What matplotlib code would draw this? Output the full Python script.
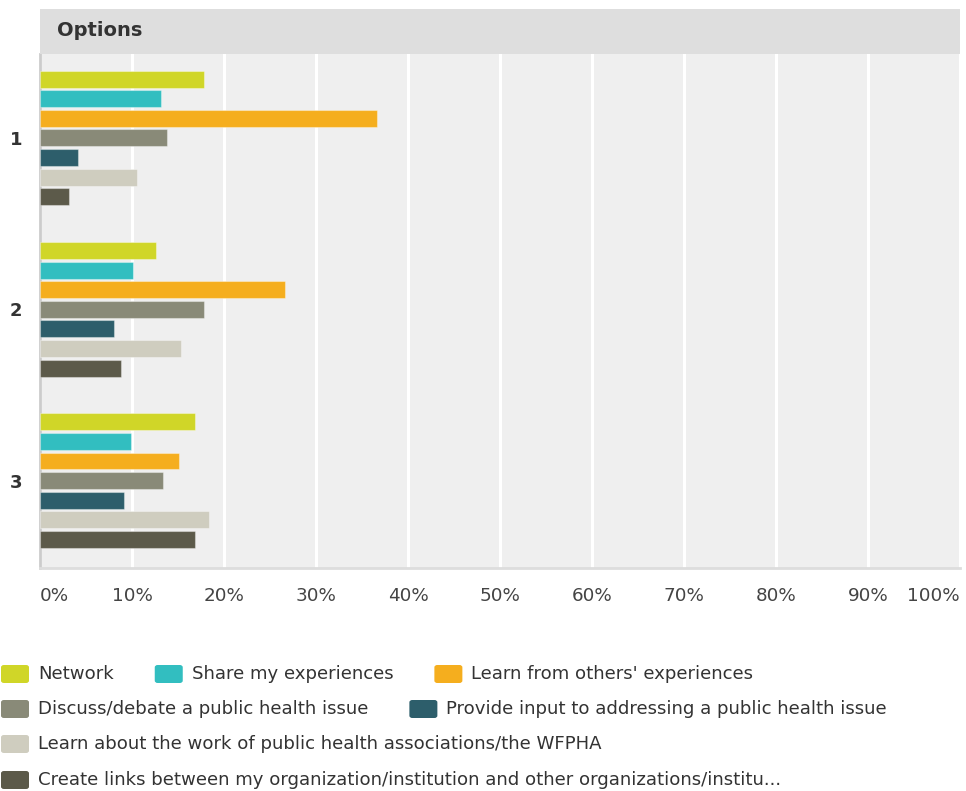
import numpy as np
import matplotlib
matplotlib.use("Agg")
import matplotlib.pyplot as plt
from matplotlib.patches import Rectangle, FancyBboxPatch

# ---- data ----
groups = ["1", "2", "3"]
options = [
    "Network",
    "Share my experiences",
    "Learn from others' experiences",
    "Discuss/debate a public health issue",
    "Provide input to addressing a public health issue",
    "Learn about the work of public health associations/the WFPHA",
    "Create links between my organization/institution and other organizations/institu...",
]
network = [17.8, 12.6, 16.8]
share = [13.2, 10.1, 9.9]
learn_others = [36.6, 26.6, 15.1]
discuss = [13.8, 17.8, 13.4]
provide_input = [4.1, 8.0, 9.1]
learn_about = [10.5, 15.3, 18.4]
create_links = [3.2, 8.8, 16.8]
series = [network, share, learn_others, discuss, provide_input, learn_about, create_links]
colors = ["#d0d628", "#32bec0", "#f5ae1e", "#898a78", "#2d5e6b", "#cfcdbf", "#5c5a4a"]
x_ticks = [0, 10, 20, 30, 40, 50, 60, 70, 80, 90, 100]
legend_rows = [[0, 1, 2], [3, 4], [5], [6]]

plt.rcParams["font.family"] = ["DejaVu Sans"]
W, H = 966, 791
fig = plt.figure(figsize=(W / 100, H / 100), dpi=100)

def fx(px):
    return px / W

def fy(py):
    return 1 - py / H

# plot area
ax = fig.add_axes([fx(40), fy(568), fx(920), 514 / H])
ax.set_facecolor("#efefef")

pitch = 0.1145
bar_h = 0.099
centers = np.arange(len(groups)) + 0.49
for i, (vals, col) in enumerate(zip(series, colors)):
    ax.barh(centers + (i - 3) * pitch, vals, height=bar_h, color=col,
            edgecolor=(1, 1, 1, 0.35), linewidth=0.8, zorder=3)

ax.set_xlim(0, 100)
ax.set_ylim(3, 0)
ax.set_xticks(x_ticks)
ax.set_xticklabels([f"{t}%" for t in x_ticks], fontsize=13.2, color="#444444")
labels = ax.get_xticklabels()
labels[0].set_ha("left")
labels[-1].set_ha("right")
ax.set_yticks(centers)
ax.set_yticklabels(groups, fontsize=13, fontweight="bold", color="#333333")
ax.tick_params(axis="x", length=0, pad=13.5)
ax.tick_params(axis="y", length=0, pad=13)
ax.grid(axis="x", color="white", linewidth=2.2, zorder=1)
ax.set_axisbelow(True)
for side in ["top", "right"]:
    ax.spines[side].set_visible(False)
ax.spines["left"].set_color("#cccccc")
ax.spines["left"].set_linewidth(2)
ax.spines["bottom"].set_color("#dddddd")
ax.spines["bottom"].set_linewidth(2)

# header band
fig.patches.append(Rectangle((fx(40), fy(54)), fx(920), 45 / H,
                             transform=fig.transFigure, facecolor="#dedede",
                             edgecolor="none", zorder=0))
fig.text(fx(57), fy(30), "Options", fontsize=14, fontweight="bold",
         color="#333333", va="center", ha="left")

# legend laid out in rows
fig.canvas.draw()
renderer = fig.canvas.get_renderer()
row_y = [674, 709, 744, 780]
sw_w, sw_h = 28, 18
for r, idxs in enumerate(legend_rows):
    x = 1
    for k in idxs:
        fig.patches.append(FancyBboxPatch(
            (fx(x), fy(row_y[r] + sw_h / 2)), fx(sw_w), sw_h / H,
            boxstyle="round,pad=0,rounding_size=0.003",
            transform=fig.transFigure, facecolor=colors[k], edgecolor="none"))
        t = fig.text(fx(x + sw_w + 9), fy(row_y[r]), options[k], fontsize=13.1,
                     color="#333333", va="center", ha="left")
        bb = t.get_window_extent(renderer)
        x = bb.x1 + 41

fig.savefig("out.png", dpi=100)
